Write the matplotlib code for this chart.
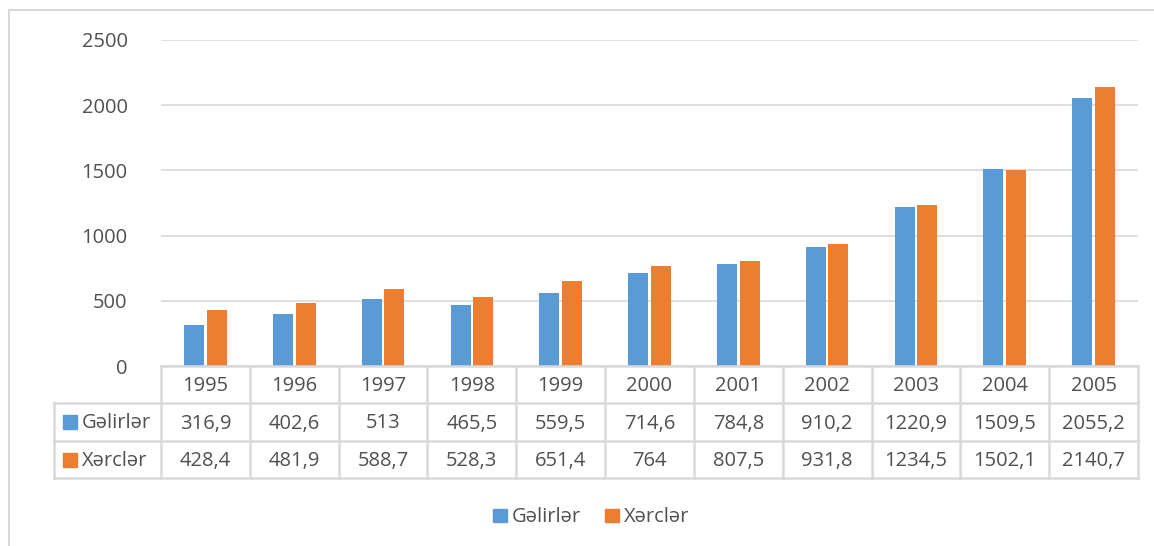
import matplotlib
matplotlib.use("Agg")
import matplotlib.pyplot as plt
from matplotlib.transforms import blended_transform_factory
from matplotlib.patches import Rectangle
import numpy as np

years = ["1995", "1996", "1997", "1998", "1999", "2000", "2001", "2002", "2003", "2004", "2005"]
income = [316.9, 402.6, 513, 465.5, 559.5, 714.6, 784.8, 910.2, 1220.9, 1509.5, 2055.2]
expense = [428.4, 481.9, 588.7, 528.3, 651.4, 764, 807.5, 931.8, 1234.5, 1502.1, 2140.7]
income_labels = ["316,9", "402,6", "513", "465,5", "559,5", "714,6", "784,8", "910,2", "1220,9", "1509,5", "2055,2"]
expense_labels = ["428,4", "481,9", "588,7", "528,3", "651,4", "764", "807,5", "931,8", "1234,5", "1502,1", "2140,7"]
series_names = ["Gəlirlər", "Xərclər"]
yticks = [0, 500, 1000, 1500, 2000, 2500]

BLUE = "#5B9BD5"
ORANGE = "#ED7D31"
GRID = "#D9D9D9"
TXT = "#505050"
FONT = "Open Sans"
FS = 14.5

W, H = 1154, 546
fig = plt.figure(figsize=(W / 100, H / 100), dpi=100)
plt.rcParams['font.family'] = [FONT, 'DejaVu Sans']

def fx(px):
    return px / W

def fy(py):
    return 1 - py / H

left, right, top, bottom = 161, 1138, 40, 366
ax = fig.add_axes([fx(left), fy(bottom), fx(right - left), fy(top) - fy(bottom)])
n = len(years)
x = np.arange(n)
bw = 0.225
gap = 0.03
ax.bar(x - (bw + gap) / 2, income, width=bw, color=BLUE, zorder=3)
ax.bar(x + (bw + gap) / 2, expense, width=bw, color=ORANGE, zorder=3)
ax.set_xlim(-0.5, n - 0.5)
ax.set_ylim(0, 2500)
ax.set_yticks(yticks)
ax.set_yticklabels([str(t) for t in yticks])
ax.yaxis.grid(True, color=GRID, lw=1.2, zorder=0)
ax.tick_params(axis='y', length=0, pad=24, labelsize=FS, labelcolor=TXT)
ax.set_xticks([])
for s in ax.spines.values():
    s.set_visible(False)

# Data table
tr = blended_transform_factory(ax.transData, fig.transFigure)
trf = fig.transFigure
rows_y = [366, 403, 441, 478]
lw = 1.8
fig.add_artist(plt.Line2D([fx(left), fx(right)], [fy(rows_y[0])] * 2, color=GRID, lw=lw, transform=trf))
for ry in rows_y[1:]:
    fig.add_artist(plt.Line2D([fx(54), fx(right)], [fy(ry)] * 2, color=GRID, lw=lw, transform=trf))
fig.add_artist(plt.Line2D([fx(54), fx(54)], [fy(rows_y[1]), fy(rows_y[3])], color=GRID, lw=lw, transform=trf))
for i in range(n + 1):
    xv = i - 0.5
    fig.add_artist(plt.Line2D([xv, xv], [fy(rows_y[0]), fy(rows_y[3])], color=GRID, lw=lw, transform=tr))

off = 1.5
for i in range(n):
    fig.text(x[i], fy((rows_y[0] + rows_y[1]) / 2 + off), years[i], transform=tr, ha='center', va='center', fontsize=FS, color=TXT)
    fig.text(x[i], fy((rows_y[1] + rows_y[2]) / 2 + off), income_labels[i], transform=tr, ha='center', va='center', fontsize=FS, color=TXT)
    fig.text(x[i], fy((rows_y[2] + rows_y[3]) / 2 + off), expense_labels[i], transform=tr, ha='center', va='center', fontsize=FS, color=TXT)

for k, (name, col) in enumerate(zip(series_names, [BLUE, ORANGE])):
    cy = (rows_y[1 + k] + rows_y[2 + k]) / 2
    fig.add_artist(Rectangle((fx(63), fy(cy + 7)), fx(14), fy(cy - 7) - fy(cy + 7), color=col, transform=trf))
    fig.text(fx(82), fy(cy + off), name, ha='left', va='center', fontsize=FS, color=TXT)

# Legend
ly = 515.5
for sx, name, col in [(493, series_names[0], BLUE), (605, series_names[1], ORANGE)]:
    fig.add_artist(Rectangle((fx(sx), fy(ly + 6.5)), fx(14), fy(ly - 6.5) - fy(ly + 6.5), color=col, transform=trf))
    fig.text(fx(sx + 19), fy(ly + off), name, ha='left', va='center', fontsize=FS, color=TXT)

# chart border
fig.add_artist(plt.Line2D([fx(9), fx(W)], [fy(10)] * 2, color=GRID, lw=1.5, transform=trf))
fig.add_artist(plt.Line2D([fx(9), fx(9)], [fy(10), 0], color=GRID, lw=1.5, transform=trf))

fig.savefig("out.png", dpi=100)
